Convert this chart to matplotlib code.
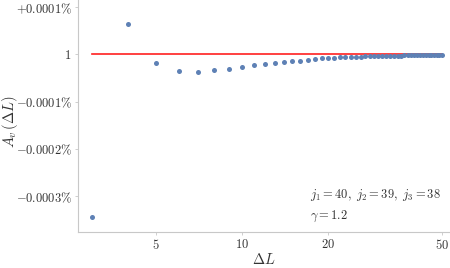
import matplotlib.pyplot as plt
import numpy as np
from matplotlib.ticker import FixedLocator, NullLocator

plt.rcParams["mathtext.fontset"] = "cm"
plt.rcParams["font.family"] = "serif"
plt.rcParams["font.serif"] = ["DejaVu Serif"]

# Delta L values and A_v(Delta L) - 1 in units of 1e-6 (i.e. 0.0001 %)
delta_l = list(range(3, 51))
dev = [-3.43, 0.64, -0.18, -0.36, -0.37, -0.33, -0.30, -0.26, -0.23, -0.20,
       -0.18, -0.16, -0.14, -0.13, -0.11, -0.10, -0.085, -0.078, -0.070,
       -0.064, -0.058, -0.053, -0.049, -0.045, -0.042, -0.039, -0.036,
       -0.033, -0.031, -0.029, -0.027, -0.026, -0.024, -0.023, -0.022,
       -0.021, -0.020, -0.019, -0.018, -0.017, -0.017, -0.016, -0.016,
       -0.015, -0.015, -0.015, -0.014, -0.014]
y_ticks = [1, 0, -1, -2, -3]
y_labels = [r"$+0.0001\%$", r"$1$", r"$-0.0001\%$", r"$-0.0002\%$", r"$-0.0003\%$"]
x_ticks = [5, 10, 20, 50]

fig = plt.figure(figsize=(4.5, 2.68), dpi=100)
ax = fig.add_axes([78 / 450, 1 - 232 / 268, 372 / 450, 232 / 268])

ax.plot([delta_l[0], delta_l[-1]], [0, 0], color="#ff2020", lw=1.2, zorder=1)
ax.scatter(delta_l, dev, s=13, color="#5e81b5", zorder=2, linewidths=0)

ax.set_xscale("log")
ax.set_xlim(2.67, 53.4)
ax.set_ylim(-3.75, 1.15)
ax.xaxis.set_major_locator(FixedLocator(x_ticks))
ax.xaxis.set_minor_locator(NullLocator())
ax.set_xticklabels([rf"${t}$" for t in x_ticks])
ax.set_yticks(y_ticks)
ax.set_yticklabels(y_labels)

for side in ["top", "right"]:
    ax.spines[side].set_visible(False)
for side in ["left", "bottom"]:
    ax.spines[side].set_color("#c8c8c8")
    ax.spines[side].set_linewidth(0.8)
ax.tick_params(colors="#c8c8c8", labelcolor="#333333", labelsize=9,
               length=2.5, width=0.6, pad=2)

ax.set_xlabel(r"$\Delta L$", fontsize=10.5, color="#333333", labelpad=0)
ax.set_ylabel(r"$A_v\,(\Delta L)$", fontsize=10.5, color="#333333",
              va="center")
ax.yaxis.set_label_coords(-0.184, 0.474)

ax.text(0.624, 0.158, r"$j_1 = 40,\ j_2 = 39,\ j_3 = 38$", transform=ax.transAxes,
        fontsize=9, color="#333333", va="center")
ax.text(0.624, 0.068, r"$\gamma = 1.2$", transform=ax.transAxes,
        fontsize=9, color="#333333", va="center")

fig.savefig("out.png", dpi=100)
